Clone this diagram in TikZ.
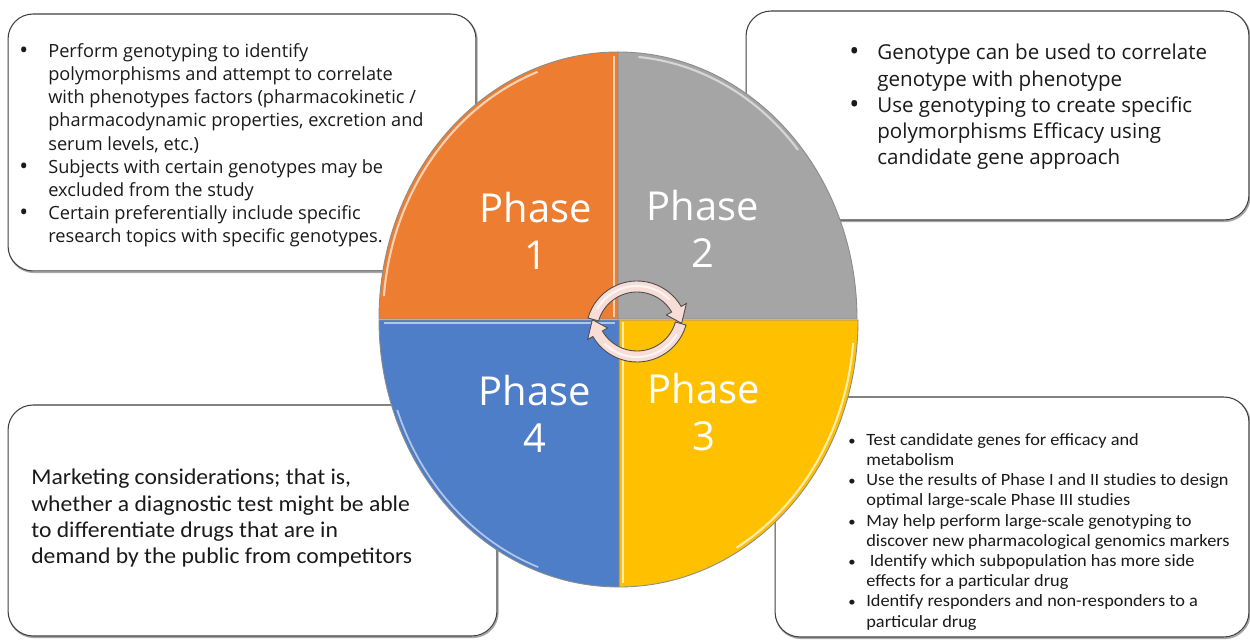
\documentclass[tikz,border=0pt]{standalone}
\usepackage{fontspec}
\setmainfont{Open Sans}
\newfontfamily\osans{Open Sans}
\newfontfamily\calibA{Carlito}[FakeStretch=1.05]
\newfontfamily\calibB{Carlito}[FakeStretch=1.065]
\definecolor{qorange}{HTML}{ED7D31}
\definecolor{qgrey}{HTML}{A5A5A5}
\definecolor{qyellow}{HTML}{FFC000}
\definecolor{qblue}{HTML}{4F7EC9}
\definecolor{boxline}{HTML}{404040}
\definecolor{arrowpink}{HTML}{F8DDD6}
\definecolor{txt}{HTML}{1A1A1A}
% bullet markers (large and small) and continuation indent of a given width
\newcommand\bitem[1]{\makebox[#1][l]{\raisebox{-0.05em}{\scalebox{1.3}{\textbullet}}}}
\newcommand\bitemsm[1]{\makebox[#1][l]{\scalebox{0.8}{\textbullet}}}
\newcommand\bcont[1]{\hspace*{#1}}
\begin{document}
\begin{tikzpicture}[x=0.02cm,y=0.02cm,
  infobox/.style={rectangle, rounded corners=0.5cm, draw=boxline, fill=white,
    line width=0.6pt, inner sep=0pt,
    preaction={draw=black!35, line width=1pt,
      transform canvas={xshift=0.5pt,yshift=-0.7pt}}},
  boxtext/.style={anchor=north west, inner sep=0pt, align=left, text=txt},
  quad/.style={draw=black!45, line width=0.5pt},
  phase/.style={text=white, align=center, inner sep=0pt,
    font=\osans\fontsize{22.7pt}{26.6pt}\selectfont},
  circarrow/.style={fill=arrowpink, draw=black!70, line width=0.5pt}]
\useasboundingbox (0,0) rectangle (1250,639);
\fill[white] (0,0) rectangle (1250,639);

% text panels behind the wheel
\node[infobox, minimum width=9.36cm, minimum height=5.14cm] (box1) at (242,496.5) {};
\node[infobox, minimum width=10.06cm, minimum height=4.18cm] (box2) at (997.5,523.5) {};
\node[infobox, minimum width=9.78cm, minimum height=4.62cm] (box3) at (252.5,118.5) {};
\node[infobox, minimum width=9.48cm, minimum height=4.80cm] (box4) at (1012,122) {};

% four quadrants of the wheel
\path[quad, fill=qorange] (618,320) -- ++(0,267) arc[start angle=90,end angle=180,x radius=239,y radius=267] -- cycle;
\path[quad, fill=qgrey] (618,320) -- ++(239,0) arc[start angle=0,end angle=90,x radius=239,y radius=267] -- cycle;
\path[quad, fill=qyellow] (619,319) -- ++(0,-267) arc[start angle=270,end angle=360,x radius=239,y radius=267] -- cycle;
\path[quad, fill=qblue] (619,319) -- ++(-240,0) arc[start angle=180,end angle=270,x radius=240,y radius=267] -- cycle;

% bevel highlights
\draw[qorange!35!white, line width=1.2pt] (618,320) ++(175:235 and 263) arc[start angle=175,end angle=110,x radius=235,y radius=263];
\draw[qorange!35!white, line width=1pt] (614,322) -- (614,583);
\draw[white!55!qgrey, line width=1.2pt] (618,320) ++(85:235 and 263) arc[start angle=85,end angle=40,x radius=235,y radius=263];
\draw[qyellow!30!white, line width=1.2pt] (623,317) -- (623,56);
\draw[qyellow!30!white, line width=1.2pt] (619,319) ++(-5:235 and 263) arc[start angle=-5,end angle=-60,x radius=235,y radius=263];
\draw[qblue!45!white, line width=1.2pt] (384,316) -- (615,316);
\draw[qblue!45!white, line width=1pt] (619,319) ++(200:236 and 263) arc[start angle=200,end angle=250,x radius=236,y radius=263];

% phase labels
\node[phase] (p1) at (536,408) {Phase\\1};
\node[phase] (p2) at (703,410) {Phase\\2};
\node[phase] (p4) at (535,225) {Phase\\4};
\node[phase] (p3) at (704,227) {Phase\\3};

% circular arrows in the middle
\path[circarrow, shift={(637,307)}]
  (164:51) arc[start angle=164,end angle=30,radius=51] -- (30:57) -- (11:45.5)
  -- (30:34) -- (30:40) arc[start angle=30,end angle=164,radius=40] -- cycle;
\path[circarrow, shift={(637,328)}, rotate=180]
  (164:51) arc[start angle=164,end angle=30,radius=51] -- (30:57) -- (11:45.5)
  -- (30:34) -- (30:40) arc[start angle=30,end angle=164,radius=40] -- cycle;
\draw[white, line width=1.2pt, opacity=0.7, shift={(637,307)}] (150:46) arc[start angle=150,end angle=45,radius=46];
\draw[white, line width=1.2pt, opacity=0.7, shift={(637,328)}, rotate=180] (150:46) arc[start angle=150,end angle=45,radius=46];

% panel texts
\node[boxtext, font=\osans\fontsize{10.35pt}{13.2pt}\selectfont] (t1) at (19,596) {%
\bitem{0.58cm}Perform genotyping to identify\\
\bcont{0.58cm}polymorphisms and attempt to correlate\\
\bcont{0.58cm}with phenotypes factors (pharmacokinetic /\\
\bcont{0.58cm}pharmacodynamic properties, excretion and\\
\bcont{0.58cm}serum levels, etc.)\\
\bitem{0.58cm}Subjects with certain genotypes may be\\
\bcont{0.58cm}excluded from the study\\
\bitem{0.58cm}Certain preferentially include specific\\
\bcont{0.58cm}research topics with specific genotypes.};

\node[boxtext, font=\osans\fontsize{11.7pt}{14.85pt}\selectfont] (t2) at (849,595) {%
\bitem{0.56cm}Genotype can be used to correlate\\
\bcont{0.56cm}genotype with phenotype\\
\bitem{0.56cm}Use genotyping to create specific\\
\bcont{0.56cm}polymorphisms Efficacy using\\
\bcont{0.56cm}candidate gene approach};

\node[boxtext, font=\calibA\fontsize{12.8pt}{14.9pt}\selectfont] (t3) at (31,170) {%
Marketing considerations; that is,\\
whether a diagnostic test might be able\\
to differentiate drugs that are in\\
demand by the public from competitors};

\node[boxtext, font=\calibB\fontsize{9.8pt}{11.5pt}\selectfont] (t4) at (848,206) {%
\bitemsm{0.36cm}Test candidate genes for efficacy and\\
\bcont{0.36cm}metabolism\\
\bitemsm{0.36cm}Use the results of Phase I and II studies to design\\
\bcont{0.36cm}optimal large-scale Phase III studies\\
\bitemsm{0.36cm}May help perform large-scale genotyping to\\
\bcont{0.36cm}discover new pharmacological genomics markers\\
\bitemsm{0.36cm}\hspace*{0.07cm}Identify which subpopulation has more side\\
\bcont{0.36cm}effects for a particular drug\\
\bitemsm{0.36cm}Identify responders and non-responders to a\\
\bcont{0.36cm}particular drug};
\end{tikzpicture}
\end{document}
